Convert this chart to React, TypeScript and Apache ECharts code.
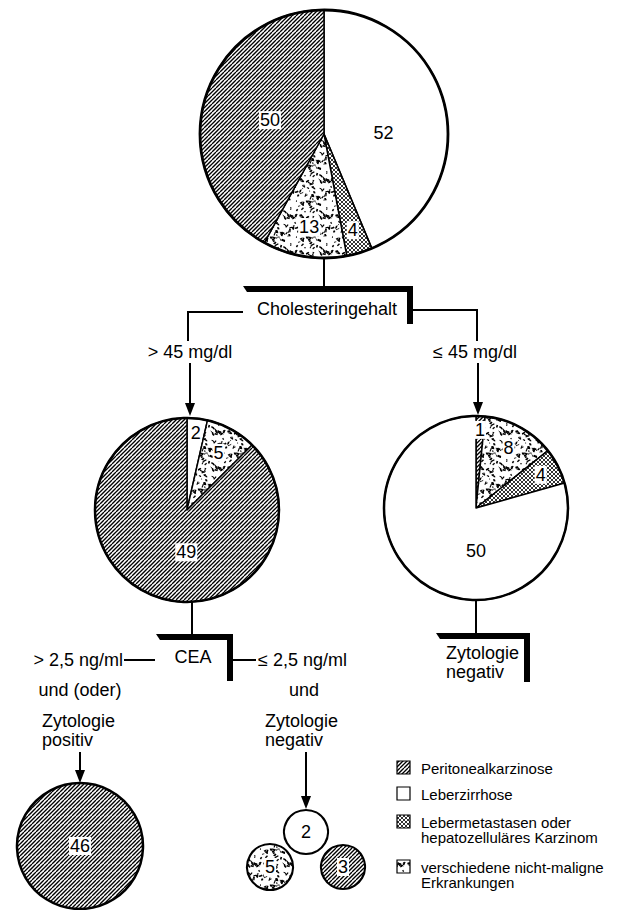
import React, { useEffect, useRef } from 'react';
import * as echarts from 'echarts';

// ---------- DATA ----------
const categories = [
  'Peritonealkarzinose',
  'Leberzirrhose',
  'Lebermetastasen oder hepatozelluläres Karzinom',
  'verschiedene nicht-maligne Erkrankungen',
];
const legendLines = [
  ['Peritonealkarzinose'],
  ['Leberzirrhose'],
  ['Lebermetastasen oder', 'hepatozelluläres Karzinom'],
  ['verschiedene nicht-maligne', 'Erkrankungen'],
];
// category index per slice (clockwise from 12 o'clock) and counts
const allCats = [1, 2, 3, 0];
const allValues = [52, 4, 13, 50];
const highCholCats = [1, 3, 0];
const highCholValues = [2, 5, 49];
const lowCholCats = [0, 3, 2, 1];
const lowCholValues = [1, 8, 4, 50];
const ceaPosCats = [0];
const ceaPosValues = [46];
const ceaNegCats = [1, 3, 0];
const ceaNegValues = [2, 5, 3];

const nodeTexts = {
  chol: 'Cholesteringehalt',
  high: '> 45 mg/dl',
  low: '≤ 45 mg/dl',
  cea: 'CEA',
  ceaHigh: '> 2,5 ng/ml',
  ceaLow: '≤ 2,5 ng/ml',
  andOr: 'und (oder)',
  and: 'und',
  cytoPos: ['Zytologie', 'positiv'],
  cytoNeg: ['Zytologie', 'negativ'],
};

// ---------- LAYOUT ----------
const FONT = "'Liberation Sans', Arial, Helvetica, sans-serif";
const topPie = { c: [324, 134], r: 124 };
const leftPie = { c: [187, 510], r: 92 };
const rightPie = { c: [476, 508], r: 92 };
const bigCircle = { c: [80, 846], r: 63 };
const smallCircles = [
  { c: [306, 832], r: 22 },
  { c: [270, 867], r: 23 },
  { c: [343, 867], r: 22 },
];
// [radius factor, angle override]
const topPlace: [number, number | null][] = [[0.48, 89], [0.81, null], [0.76, null], [0.45, null]];
const leftPlace: [number, number | null][] = [[0.84, null], [0.71, null], [0.46, 181]];
const rightPlace: [number, number | null][] = [[0.85, null], [0.74, null], [0.79, null], [0.47, 180]];

// ---------- PATTERNS ----------
function makeTile(w: number, h: number, draw: (ctx: CanvasRenderingContext2D) => void) {
  const c = document.createElement('canvas');
  c.width = w;
  c.height = h;
  const ctx = c.getContext('2d') as CanvasRenderingContext2D;
  ctx.fillStyle = '#fff';
  ctx.fillRect(0, 0, w, h);
  ctx.strokeStyle = '#000';
  ctx.fillStyle = '#000';
  draw(ctx);
  return { image: c, repeat: 'repeat', imageWidth: w, imageHeight: h };
}

function makePatterns() {
  const hatch = makeTile(8, 8, (ctx) => {
    ctx.lineWidth = 1.3;
    for (let c = -4; c <= 20; c += 4) {
      ctx.beginPath();
      ctx.moveTo(c, 0);
      ctx.lineTo(c - 8, 8);
      ctx.stroke();
    }
  });
  const cross = makeTile(8, 8, (ctx) => {
    ctx.lineWidth = 0.8;
    for (let c = -8; c <= 16; c += 4) {
      ctx.beginPath();
      ctx.moveTo(c, 0);
      ctx.lineTo(c - 8, 8);
      ctx.stroke();
      ctx.beginPath();
      ctx.moveTo(c - 8, 0);
      ctx.lineTo(c, 8);
      ctx.stroke();
    }
  });
  const stipple = makeTile(36, 36, (ctx) => {
    let s = 12345;
    const rnd = () => {
      s = (Math.imul(s, 1103515245) + 12345) >>> 0;
      return s / 4294967296;
    };
    const n = 36;
    for (let i = 0; i < 85; i++) {
      const x = rnd() * n;
      const y = rnd() * n;
      const lw = 0.8 + rnd() * 1.1;
      const ang = rnd() * Math.PI * 2;
      const len = 1 + rnd() * 3.2;
      const bend = (rnd() - 0.5) * 2;
      for (const ox of [-n, 0, n]) {
        for (const oy of [-n, 0, n]) {
          ctx.lineWidth = lw;
          ctx.beginPath();
          ctx.moveTo(x + ox, y + oy);
          ctx.quadraticCurveTo(
            x + ox + Math.cos(ang) * len * 0.5 + bend,
            y + oy + Math.sin(ang) * len * 0.5 - bend,
            x + ox + Math.cos(ang) * len,
            y + oy + Math.sin(ang) * len
          );
          ctx.stroke();
        }
      }
    }
  });
  return [hatch, '#ffffff', cross, stipple];
}

function placer(values: number[], center: number[], r: number, places: [number, number | null][]) {
  const total = values.reduce((a, b) => a + b, 0);
  const mids: number[] = [];
  let acc = 0;
  values.forEach((v) => {
    mids.push(((acc + v / 2) / total) * 360);
    acc += v;
  });
  return (p: any) => {
    const [f, ang] = places[p.dataIndex];
    const a = ((ang ?? mids[p.dataIndex]) * Math.PI) / 180;
    return {
      x: center[0] + f * r * Math.sin(a),
      y: center[1] - f * r * Math.cos(a),
      align: 'center',
      verticalAlign: 'middle',
    };
  };
}

export default function App() {
  const ref = useRef<HTMLDivElement>(null);
  useEffect(() => {
    if (!ref.current) return;
    const chart = echarts.init(ref.current, undefined, { renderer: 'svg' });
    const fills = makePatterns();

    const labelStyle = {
      show: true,
      formatter: '{c}',
      color: '#000',
      fontFamily: FONT,
      fontSize: 18,
      backgroundColor: '#fff',
      padding: [0, 1, -1, 1],
      lineHeight: 19,
    };

    const pieSeries = (
      name: string,
      cats: number[],
      values: number[],
      geom: { c: number[]; r: number },
      places: [number, number | null][] | null,
      borderWidth = 1.5
    ) => ({
      type: 'pie',
      name,
      center: geom.c,
      radius: [0, geom.r],
      startAngle: 90,
      clockwise: true,
      silent: true,
      avoidLabelOverlap: false,
      minAngle: 0,
      label: { ...labelStyle, position: places ? 'inside' : 'center' },
      labelLine: { show: false },
      labelLayout: places ? placer(values, geom.c, geom.r, places) : undefined,
      emphasis: { disabled: true },
      itemStyle: { borderColor: '#000', borderWidth },
      data: values.map((v, i) => ({
        name: categories[cats[i]],
        value: v,
        itemStyle: { color: fills[cats[i]] },
      })),
    });

    const series: any[] = [
      pieSeries('Alle', allCats, allValues, topPie, topPlace),
      pieSeries('Cholesterin > 45', highCholCats, highCholValues, leftPie, leftPlace),
      pieSeries('Cholesterin ≤ 45', lowCholCats, lowCholValues, rightPie, rightPlace),
      pieSeries('CEA positiv', ceaPosCats, ceaPosValues, bigCircle, null, 2.5),
    ];
    ceaNegValues.forEach((v, i) => {
      series.push(pieSeries('CEA negativ ' + i, [ceaNegCats[i]], [v], smallCircles[i], null, 2.2));
    });

    const txt = (text: string, x: number, y: number, align = 'center', size = 18) => ({
      type: 'text',
      x,
      y,
      z: 20,
      silent: true,
      style: {
        text,
        fill: '#000',
        font: `${size}px ${FONT}`,
        fontSize: size,
        fontFamily: FONT,
        align,
        verticalAlign: 'middle',
      },
    });
    const multi = (lines: string[], x: number, y: number, step: number, align = 'left', size = 18) =>
      lines.map((l, i) => txt(l, x, y + i * step, align, size));
    const line = (x1: number, y1: number, x2: number, y2: number, w = 2) => ({
      type: 'line',
      z: 20,
      silent: true,
      shape: { x1, y1, x2, y2 },
      style: { stroke: '#000', lineWidth: w },
    });
    const poly = (points: number[][], w = 2) => ({
      type: 'polyline',
      z: 20,
      silent: true,
      shape: { points },
      style: { stroke: '#000', lineWidth: w, fill: 'none' },
    });
    const bar = (x: number, y: number, w: number, h: number) => ({
      type: 'rect',
      z: 20,
      silent: true,
      shape: { x, y, width: w, height: h },
      style: { fill: '#000' },
    });
    const arrow = (x: number, y1: number, y2: number) => [
      line(x, y1, x, y2 - 10),
      {
        type: 'polygon',
        z: 20,
        silent: true,
        shape: { points: [[x - 5, y2 - 13], [x + 5, y2 - 13], [x, y2]] },
        style: { fill: '#000' },
      },
    ];
    const outline = (g: { c: number[]; r: number }, w: number) => ({
      type: 'circle',
      z: 30,
      silent: true,
      shape: { cx: g.c[0], cy: g.c[1], r: g.r },
      style: { fill: 'none', stroke: '#000', lineWidth: w },
    });

    const legendY = [761, 787, 815, 860];
    const legendEls: any[] = [];
    legendLines.forEach((lines, i) => {
      legendEls.push({
        type: 'rect',
        z: 20,
        silent: true,
        shape: { x: 397, y: legendY[i], width: 13, height: 13 },
        style: { fill: fills[i], stroke: '#000', lineWidth: 1.2 },
      });
      legendEls.push(...multi(lines, 421, legendY[i] + 7, 15.5, 'left', 15));
    });

    const graphics: any[] = [
      outline(topPie, 2.8),
      outline(leftPie, 2.5),
      outline(rightPie, 2.5),
      // top -> cholesterol bracket
      line(324, 258, 324, 288),
      {
        type: 'polygon',
        z: 20,
        silent: true,
        shape: { points: [[243, 286], [413, 286], [413, 292], [247, 292]] },
        style: { fill: '#000' },
      },
      bar(407, 286, 6, 38),
      txt(nodeTexts.chol, 327, 309),
      poly([[243, 312], [188, 312], [188, 341]]),
      txt(nodeTexts.high, 190, 352),
      ...arrow(190, 363, 416),
      poly([[413, 310], [477, 310], [477, 341]]),
      txt(nodeTexts.low, 475, 352),
      ...arrow(478, 363, 415),
      // CEA bracket
      line(192, 602, 192, 636),
      {
        type: 'polygon',
        z: 20,
        silent: true,
        shape: { points: [[156, 634], [233, 634], [233, 640], [160, 640]] },
        style: { fill: '#000' },
      },
      bar(227, 634, 6, 47),
      txt(nodeTexts.cea, 193, 657),
      line(124, 660, 155, 660),
      txt(nodeTexts.ceaHigh, 123, 660, 'right'),
      line(233, 660, 256, 660),
      txt(nodeTexts.ceaLow, 258, 660, 'left'),
      txt(nodeTexts.andOr, 80, 690),
      ...multi(nodeTexts.cytoPos, 42, 721, 18.5),
      ...arrow(80, 752, 783),
      txt(nodeTexts.and, 304, 690),
      ...multi(nodeTexts.cytoNeg, 265, 721, 18.5),
      ...arrow(306, 752, 809),
      // right bracket
      line(476, 600, 476, 634),
      {
        type: 'polygon',
        z: 20,
        silent: true,
        shape: { points: [[436, 633], [530, 633], [530, 639], [440, 639]] },
        style: { fill: '#000' },
      },
      bar(524, 633, 6, 49),
      ...multi(nodeTexts.cytoNeg, 446, 653, 18.5),
      ...legendEls,
    ];

    chart.setOption({
      animation: false,
      backgroundColor: '#ffffff',
      series,
      graphic: { elements: graphics },
    });
    return () => chart.dispose();
  }, []);

  return (
    <div
      ref={ref}
      style={{ position: 'absolute', left: 0, top: 0, width: 624, height: 910, background: '#fff' }}
    />
  );
}
